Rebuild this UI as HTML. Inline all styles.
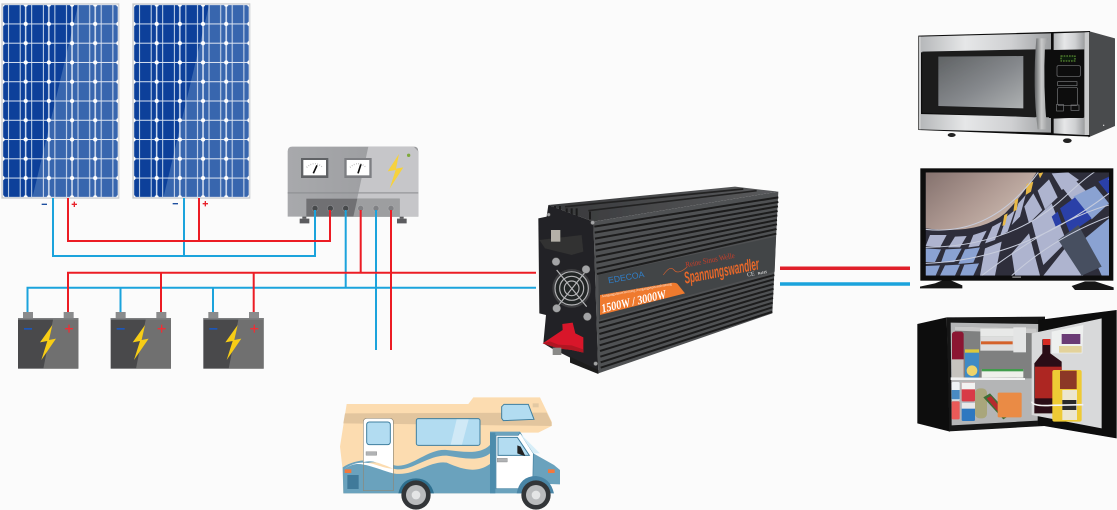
<!DOCTYPE html>
<html><head><meta charset="utf-8"><style>
html,body{margin:0;padding:0;background:#fbfbfb}
svg{display:block}
text{font-family:"Liberation Serif",serif}
</style></head><body>
<svg xmlns="http://www.w3.org/2000/svg" width="1117" height="510" viewBox="0 0 1117 510">
<defs>
<filter id="soft" x="-5%" y="-5%" width="110%" height="110%"><feGaussianBlur stdDeviation="1.1"/></filter>
<pattern id="cell" patternUnits="userSpaceOnUse" x="7.6" y="14" width="69.5" height="57.8">
<rect width="69.5" height="57.8" fill="#08409a"/>
<path d="M18 0V58M53 0V58" stroke="#c9d7ec" stroke-width="3"/>
<path d="M0 0H70M0 57.8H70" stroke="#d8e2f1" stroke-width="3"/>
<path d="M0 0V58M69.5 0V58" stroke="#e8eef8" stroke-width="4"/>
<circle cx="0" cy="0" r="6.5" fill="#fff"/><circle cx="69.5" cy="0" r="6.5" fill="#fff"/>
<circle cx="0" cy="57.8" r="6.5" fill="#fff"/><circle cx="69.5" cy="57.8" r="6.5" fill="#fff"/>
</pattern>
<linearGradient id="win" x1="0" x2="1" y1="0" y2="1"><stop offset="0" stop-color="#5f6264"/><stop offset=".55" stop-color="#86898d"/><stop offset="1" stop-color="#aeb1b2"/></linearGradient>
<linearGradient id="silver" x1="0" x2="1" y1="0" y2="0"><stop offset="0" stop-color="#b4b6b8"/><stop offset=".35" stop-color="#e6e7e8"/><stop offset=".7" stop-color="#cfd0d2"/><stop offset="1" stop-color="#9d9fa1"/></linearGradient>
<linearGradient id="handle" x1="0" x2="1" y1="0" y2="0"><stop offset="0" stop-color="#5d5f61"/><stop offset=".5" stop-color="#c9caca"/><stop offset="1" stop-color="#97989a"/></linearGradient>
<linearGradient id="sky" x1="0" x2="1" y1="0" y2=".6"><stop offset="0" stop-color="#85726e"/><stop offset=".55" stop-color="#af9a93"/><stop offset="1" stop-color="#cdbbb0"/></linearGradient>
<linearGradient id="top" x1="0" x2="1" y1="0" y2="0"><stop offset="0" stop-color="#37383a"/><stop offset="1" stop-color="#5a5b5d"/></linearGradient>
<linearGradient id="ctl" x1="0" x2="1" y1="0" y2="0"><stop offset="0" stop-color="#a8a9ac"/><stop offset="1" stop-color="#98999c"/></linearGradient>
<clipPath id="scr"><rect x="62" y="37" width="550" height="310"/></clipPath>
<g id="panel">
<rect x="4" y="10" width="354" height="586" fill="#c8cacd"/>
<rect x="8" y="14" width="347" height="578" rx="6" fill="url(#cell)"/>
<polygon points="235,12 356,12 356,594 97,594" fill="#fff" opacity=".2"/>
</g>
<g id="batt">
<rect x="69" y="156" width="30" height="19" fill="#8a8b8c"/>
<rect x="191" y="156" width="30" height="19" fill="#8a8b8c"/>
<rect x="54" y="174" width="181" height="152" fill="#48494c"/>
<polygon points="160,174 235,174 235,326 130,326" fill="#6f706f"/>
<rect x="54" y="174" width="181" height="5" fill="#7d7e80"/>
<rect x="72" y="204" width="24" height="5" fill="#1f57b8"/>
<path d="M195 206H219M207 194V218" stroke="#ef2f36" stroke-width="4"/>
<polygon points="157,195 120,247 142,243 124,300 168,236 147,240" fill="#f7cd17"/>
</g>
</defs>
<rect width="1117" height="510" fill="#fbfbfb"/>

<!-- solar panels -->
<g transform="scale(.33333)"><g filter="url(#soft)"><use href="#panel"/><use href="#panel" x="393"/></g>
<path d="M125 613H141M518 611H534" stroke="#1e4f9f" stroke-width="4"/>
<path d="M215 613H231M223 605V621M608 611H624M616 603V619" stroke="#e8242c" stroke-width="4"/>
</g>

<!-- controller -->
<g transform="translate(270,140) scale(.33333)" filter="url(#soft)">
<path d="M89 250V236H118V250Z M381 250V236H410V250Z" fill="#5b5c5f"/>
<path d="M97 236h12v-8h-12z M389 236h12v-8h-12z" fill="#5b5c5f"/>
<path d="M53 230V34Q53 20 67 20H431Q445 20 445 34V230Z" fill="url(#ctl)"/>
<polygon points="295,20 431,20 445,34 445,230 250,230" fill="#c6c6c9"/>
<rect x="53" y="156" width="392" height="5" fill="#8b8c8f" opacity=".6"/>
<rect x="109" y="176" width="280" height="54" fill="#6f7073"/>
<polygon points="262,176 389,176 389,230 250,230" fill="#9d9ea0"/>
<rect x="93" y="54" width="82" height="60" fill="#616265"/><rect x="100" y="60" width="68" height="46" fill="#fff"/>
<rect x="223" y="54" width="82" height="60" fill="#7d7e82"/><rect x="230" y="60" width="68" height="46" fill="#fff"/>
<path d="M130 100L141 76M264 100L273 72" stroke="#111" stroke-width="5"/>
<path d="M110 82Q134 60 158 82M240 82Q264 60 288 82" fill="none" stroke="#aaa" stroke-width="4" stroke-dasharray="2 5"/>
<polygon points="387,42 353,94 377,90 359,146 400,82 378,86" fill="#f6d23c"/>
<circle cx="416" cy="46" r="5" fill="#7ea93b"/>
<g fill="#47484b" stroke="#8a8b8e" stroke-width="2"><circle cx="135" cy="205" r="9"/><circle cx="181" cy="205" r="9"/><circle cx="227" cy="205" r="9"/></g>
<g fill="#808184" stroke="#a8a9ab" stroke-width="2"><circle cx="272" cy="205" r="9"/><circle cx="318" cy="205" r="9"/><circle cx="363" cy="205" r="9"/></g>
</g>

<!-- wires -->
<g fill="none" stroke-width="2">
<path d="M53 198V256H315V210" stroke="#1ba3dc"/>
<path d="M184 198V256" stroke="#1ba3dc"/>
<path d="M68 198V241H330V210" stroke="#ec1c24"/>
<path d="M199 198V241" stroke="#ec1c24"/>
<path d="M27.5 314V287.7H536" stroke="#1ba3dc"/>
<path d="M120.5 314V288M213 314V288M345.7 210V288M376 210V350" stroke="#1ba3dc"/>
<path d="M68 314V272.7H536" stroke="#ec1c24"/>
<path d="M161 314V273M253.7 314V273M360.7 210V273M391 210V350" stroke="#ec1c24"/>
</g>
<path d="M780 268.3H910" stroke="#e0202a" stroke-width="3.5"/>
<path d="M780 284H910" stroke="#1ba3dc" stroke-width="3.5"/>

<!-- batteries -->
<g transform="translate(0,260) scale(.33333)" filter="url(#soft)"><use href="#batt"/><use href="#batt" x="278"/><use href="#batt" x="556"/></g>

<!-- inverter -->
<g transform="translate(530,180) scale(.33333)" filter="url(#soft)">
<polygon points="55,75 615,20 745,35 190,125" fill="url(#top)"/>
<path d="M105 80L640 27M175 92L680 32" stroke="#232324" stroke-width="5"/>
<path d="M60 78V100M75 78V100M90 78V100M110 85V110M125 85V110M140 85V110M180 95V118" stroke="#1a1a1b" stroke-width="6"/>
<polygon points="190,125 745,35 727,400 205,580" fill="#505153"/>
<polygon points="55,75 190,125 205,580 125,535 65,505 40,490 48,405 28,400 25,115 50,110" fill="#242425"/>
<polygon points="28,180 155,165 160,215 125,225 45,205" fill="#303031"/>
<rect x="63" y="150" width="28" height="35" fill="#b4b0a8"/>
<polygon points="120,530 205,570 205,582 120,548" fill="#1c1c1d"/>
<g stroke="#1e1e1f" stroke-width="6" fill="none">
<path d="M193 140L745 52M194 158L745 66M195 176L744 79M196 194L743 93M197 212L742 106M198 230L741 120M199 248L741 133M200 266L740 147M201 282L739 161"/>
<path d="M207 428L733 285M207 445L732 298M208 462L731 312M209 479L731 326M209 496L730 340M210 513L729 354M211 530L728 368M212 547L727 382M212 563L727 395"/>
</g>
<polygon points="205,285 738,170 734,275 207,420" fill="#434446"/>
<path d="M210 345L415 310Q440 305 445 315L465 340L210 405Z" fill="#ef7a2f"/>
<text transform="translate(217,398) rotate(-13)" font-size="37" font-style="italic" font-weight="700" fill="#fff" textLength="198" lengthAdjust="spacingAndGlyphs">1500W / 3000W</text>
<text transform="translate(215,352) rotate(-10)" font-size="11" fill="#ffe6d3">Ausgangsdauerleistung  Ausgangsspitzenleistung</text>
<text transform="translate(236,310) rotate(-10)" font-size="26" style="font-family:'Liberation Sans',sans-serif" fill="#2f7fc9">EDECOA</text>
<text transform="translate(468,262) rotate(-11)" font-size="24" fill="#c8402a" textLength="150" lengthAdjust="spacingAndGlyphs">Reine Sinus Welle</text>
<text transform="translate(466,311) rotate(-11)" font-size="50" font-style="italic" font-weight="700" fill="#e8682a" textLength="228" lengthAdjust="spacingAndGlyphs" style="font-family:'Liberation Sans',sans-serif">Spannungswandler</text>
<path d="M400 285Q420 255 432 270T470 262" fill="none" stroke="#d6602e" stroke-width="2"/>
<text transform="translate(652,290) rotate(-10)" font-size="18" fill="#ddd">CE</text>
<text transform="translate(684,284) rotate(-10)" font-size="11" fill="#ddd" font-weight="700">RoHS</text>
<circle cx="125" cy="325" r="58" fill="#3d3e40"/>
<circle cx="125" cy="325" r="52" fill="#242526"/>
<g fill="none" stroke="#b4b5b7" stroke-width="3.5"><circle cx="125" cy="325" r="50"/><circle cx="125" cy="325" r="36"/><circle cx="125" cy="325" r="22"/><path d="M80 270L170 380M172 268L78 385"/></g>
<g fill="#a3a4a6" stroke="#555"><circle cx="78" cy="245" r="12"/><circle cx="168" cy="268" r="12"/><circle cx="80" cy="385" r="12"/><circle cx="172" cy="410" r="12"/><circle cx="188" cy="128" r="6"/><circle cx="197" cy="551" r="6"/><circle cx="56" cy="104" r="5"/></g>
<polygon points="38,490 98,450 97,432 128,428 136,460 160,472 160,518 125,510 85,505" fill="#d8192b"/>
<polygon points="38,490 85,505 125,510 160,518 160,508 125,496 85,494 60,484" fill="#b01424"/>
<rect x="68" y="503" width="26" height="22" fill="#8a8a88"/>
</g>

<!-- camper -->
<g transform="translate(330,390) scale(.33333)" filter="url(#soft)">
<path d="M50 42H415L430 22H630L665 95V108L625 128H480V310H40L38 240L30 170Z" fill="#fcdcb0"/>
<polygon points="45,70 650,68 665,98 665,108 40,100" fill="#e2c59e"/>
<path d="M38 232C80 205 130 205 190 225C240 240 290 175 350 180C400 185 450 195 480 165V310H40Z" fill="#6aa2bd"/>
<path d="M100 224C130 210 160 218 190 236C240 250 290 195 350 197C400 205 450 215 480 190V222C440 250 400 240 350 218C300 210 250 262 190 250C150 235 120 225 100 224Z" fill="#fcdcb0"/>
<path d="M40 240C70 215 100 215 130 222C150 228 170 236 190 236V250C150 240 110 220 80 222C60 224 45 236 40 240Z" fill="#fff"/>
<path d="M480 125H570L610 190L672 225L690 240V283L660 282V310H480Z" fill="#6aa2bd"/>
<path d="M570 128L610 190L608 296H498V136H565Z" fill="#fff" stroke="#417f9f" stroke-width="2"/>
<path d="M570 130L630 190L610 190Z" fill="#d7eef8"/>
<polygon points="504,142 562,142 598,196 504,196" fill="#b3dcf1" stroke="#417f9f" stroke-width="3"/>
<polygon points="562,166 572,170 586,198 578,196 562,190" fill="#222"/>
<rect x="502" y="205" width="30" height="11" fill="#b0b2b4" stroke="#777"/>
<rect x="480" y="128" width="16" height="182" fill="#4e8cac"/>
<path d="M100 302V96Q100 85 112 85H178Q190 85 190 96V302Z" fill="none" stroke="#8d8878" stroke-width="2"/>
<path d="M101 96Q101 86 112 86H178Q189 86 189 96V236Q160 222 130 215Q115 212 101 216Z" fill="#fff"/>
<rect x="110" y="96" width="71" height="68" rx="8" fill="#b2dcf1" stroke="#417f9f" stroke-width="3"/>
<rect x="108" y="185" width="32" height="11" fill="#b0b2b4" stroke="#777"/>
<rect x="259" y="86" width="191" height="80" rx="6" fill="#b2dcf1" stroke="#417f9f" stroke-width="3"/>
<polygon points="380,88 416,88 396,164 362,164" fill="#d0e9f6"/>
<polygon points="515,50 522,43 595,43 612,88 520,92 515,85" fill="#b2dcf1" stroke="#417f9f" stroke-width="3"/>
<rect x="608" y="40" width="18" height="12" fill="#e3c9a3"/>
<rect x="52" y="255" width="34" height="42" fill="#3f7a9a"/>
<rect x="44" y="238" width="20" height="11" fill="#f2783c"/>
<rect x="654" y="238" width="20" height="11" fill="#f2783c"/>
<path d="M205 310Q215 265 258 265Q300 265 312 310Z" fill="#2f6f90"/>
<path d="M560 310Q570 258 618 258Q660 262 672 310Z" fill="#4885a6"/>
<circle cx="258" cy="315" r="44" fill="#333537"/><circle cx="258" cy="315" r="30" fill="#b9bbbd"/><circle cx="258" cy="315" r="13" fill="#e4e5e6"/>
<circle cx="618" cy="315" r="44" fill="#333537"/><circle cx="618" cy="315" r="30" fill="#b9bbbd"/><circle cx="618" cy="315" r="13" fill="#e4e5e6"/>
</g>

<!-- microwave -->
<g transform="translate(905,20) scale(.33333)" filter="url(#soft)">
<ellipse cx="140" cy="345" rx="12" ry="6" fill="#222"/><ellipse cx="487" cy="362" rx="13" ry="7" fill="#222"/>
<polygon points="550,33 630,55 630,318 550,352" fill="#4a4b4d"/>
<polygon points="40,47 555,33 555,350 40,330" fill="#111"/>
<polygon points="42,50 438,40 438,88 42,97" fill="url(#silver)"/>
<polygon points="42,282 438,292 438,338 42,328" fill="url(#silver)"/>
<polygon points="42,50 48,50 48,328 42,328" fill="#c8c9ca"/>
<polygon points="446,40 538,37 538,88 446,90" fill="url(#silver)"/>
<polygon points="446,296 538,292 538,345 446,340" fill="url(#silver)"/>
<polygon points="538,37 553,36 553,345 538,345" fill="#c9cacb"/>
<polygon points="52,95 392,88 392,292 52,278" fill="#1b1c1f"/>
<polygon points="100,110 355,108 355,265 100,258" fill="url(#win)"/>
<path d="M394 55H430L420 75Q414 200 426 328H398Q382 200 394 55Z" fill="url(#handle)"/>
<rect x="432" y="90" width="104" height="204" fill="#0d0d0e"/>
<rect x="468" y="108" width="42" height="15" fill="#0b1d0c" stroke="#6aa83a" stroke-width="3" stroke-dasharray="5 3"/>
<g fill="none" stroke="#77787a" stroke-width="2"><rect x="456" y="137" width="70" height="32" rx="4"/><rect x="458" y="185" width="58" height="12"/><rect x="458" y="202" width="60" height="55" rx="6"/><rect x="455" y="253" width="20" height="20"/><rect x="498" y="255" width="24" height="16"/></g>
<circle cx="596" cy="316" r="2" fill="#ddd"/>
</g>

<!-- tv -->
<g transform="translate(905,160) scale(.33333)" filter="url(#soft)">
<path d="M45 380L90 370L115 360H135L172 376V385H45Z" fill="#121213"/>
<path d="M500 378L540 364H570L626 382V390H510Z" fill="#121213"/>
<rect x="46" y="25" width="579" height="337" fill="#09090b"/>
<g clip-path="url(#scr)">
<rect x="62" y="37" width="550" height="310" fill="#2e2e3a"/>
<path d="M62 37H395Q350 110 300 160Q220 225 62 205Z" fill="url(#sky)"/>
<g fill="#aeb4cf">
<polygon points="75,225 125,225 105,262 62,258"/><polygon points="150,230 185,228 165,262 130,262"/>
<polygon points="205,225 245,212 222,258 190,262"/><polygon points="262,200 290,185 270,240 240,250"/>
<polygon points="305,170 330,150 308,215 285,228"/><polygon points="340,130 362,105 345,170 320,195"/>
<polygon points="380,185 440,130 485,245 415,315"/><polygon points="320,280 372,220 405,347 330,347"/>
<polygon points="358,140 385,100 412,150 372,190"/><polygon points="398,92 432,58 458,112 420,148"/>
<polygon points="440,40 490,37 522,60 470,90"/>
<polygon points="415,347 480,265 535,347"/>
<polygon points="462,70 500,50 550,100 505,125"/>
<polygon points="240,265 290,245 270,347 225,347"/>
</g>
<g fill="#8aa2d2">
<polygon points="505,110 570,78 612,130 560,178"/><polygon points="62,265 108,268 90,306 62,306"/>
<polygon points="122,268 170,266 148,306 108,308"/><polygon points="180,268 225,262 205,308 160,312"/>
<polygon points="62,318 105,316 92,347 62,347"/><polygon points="120,316 165,314 150,347 105,347"/><polygon points="178,314 222,310 205,347 165,347"/>
<polygon points="540,235 612,175 612,347 590,347"/>
</g>
<g fill="#2b3fa8"><polygon points="465,145 510,112 560,175 495,220"/><polygon points="580,65 612,50 612,105"/><polygon points="440,170 458,155 470,190 452,200"/></g>
<polygon points="460,240 520,195 590,320 530,347" fill="#464f60"/>
<g fill="#e8b947"><polygon points="365,72 385,65 378,95 362,105"/><polygon points="330,120 340,115 335,150 325,155"/><polygon points="298,165 308,160 300,195 292,198"/><polygon points="400,40 415,37 405,55"/></g>
<path d="M62 208Q260 230 400 37M62 262Q320 260 480 110T612 60M62 310Q350 300 612 100M230 347Q450 180 612 135M320 347Q450 230 612 170" fill="none" stroke="#c7ccdc" stroke-width="3"/>
</g>
<rect x="322" y="349" width="26" height="5" fill="#777"/>
</g>

<!-- fridge -->
<g transform="translate(905,300) scale(.33333)" filter="url(#soft)">
<polygon points="37,72 125,52 135,395 37,370" fill="#0c0c0d"/>
<polygon points="125,52 420,50 418,378 132,394" fill="#121213"/>
<polygon points="137,68 400,72 398,362 140,376" fill="#b4b5b6"/>
<polygon points="150,80 395,85 395,235 150,235" fill="#7f8080"/>
<polygon points="150,80 395,85 395,100 150,92" fill="#c8c8c8"/>
<rect x="226" y="86" width="100" height="24" fill="#e8e9e8"/><rect x="226" y="110" width="100" height="42" fill="#ddd"/><rect x="228" y="124" width="95" height="9" fill="#d4622c"/>
<rect x="325" y="82" width="38" height="75" fill="#e4e5e5"/>
<rect x="141" y="95" width="35" height="138" rx="8" fill="#8b1530"/><rect x="141" y="178" width="35" height="55" fill="#c6c3be"/>
<rect x="180" y="148" width="42" height="85" rx="6" fill="#3f8ac5"/><circle cx="201" cy="212" r="16" fill="#efd36a"/><rect x="180" y="148" width="42" height="10" fill="#ddc83a"/>
<rect x="230" y="207" width="125" height="26" fill="#eef0ea"/><rect x="230" y="207" width="125" height="7" fill="#3f9c4c"/>
<polygon points="137,232 360,234 360,240 137,240" fill="#f2f2f2"/>
<rect x="140" y="246" width="24" height="56" rx="4" fill="#eef2f4"/><rect x="140" y="270" width="24" height="28" fill="#4a8ac2"/>
<rect x="140" y="304" width="24" height="54" rx="4" fill="#ea5a58"/>
<rect x="170" y="248" width="40" height="56" rx="4" fill="#d83b46"/><rect x="170" y="248" width="40" height="20" fill="#f2f2f2"/>
<rect x="170" y="308" width="40" height="55" rx="4" fill="#2f78c0"/><rect x="170" y="308" width="40" height="18" fill="#e8e8e8"/>
<rect x="210" y="265" width="36" height="90" rx="14" fill="#a9a67c"/>
<polygon points="235,292 255,280 315,345 295,358" fill="#3d6e35"/><polygon points="245,295 258,288 300,340 290,348" fill="#b42a2e"/>
<rect x="278" y="278" width="72" height="74" rx="4" fill="#ea8b45"/>
<polygon points="400,60 635,30 635,415 400,375" fill="#070708"/>
<polygon points="380,100 590,55 590,385 380,345" fill="#d8d9da"/>
<polygon points="440,95 535,75 532,160 440,160" fill="#eef0ef"/><rect x="470" y="102" width="56" height="30" fill="#6a3a74"/><rect x="462" y="138" width="68" height="20" fill="#e3d29b"/>
<path d="M412 118H436V160L470 185V340H388V190L412 160Z" fill="#2c1012"/><rect x="414" y="117" width="22" height="18" fill="#d62c22"/>
<rect x="390" y="200" width="80" height="95" fill="#ad2620"/>
<rect x="442" y="210" width="88" height="155" rx="6" fill="#eeca34"/><rect x="465" y="212" width="50" height="55" fill="#8c3826"/><rect x="472" y="270" width="44" height="90" fill="#ece6d0"/><rect x="472" y="300" width="42" height="30" fill="#2b2b2b"/>
<path d="M380 305Q385 320 440 316L535 314" fill="none" stroke="#f3f3f3" stroke-width="5"/>
</g>
</svg>
</body></html>
